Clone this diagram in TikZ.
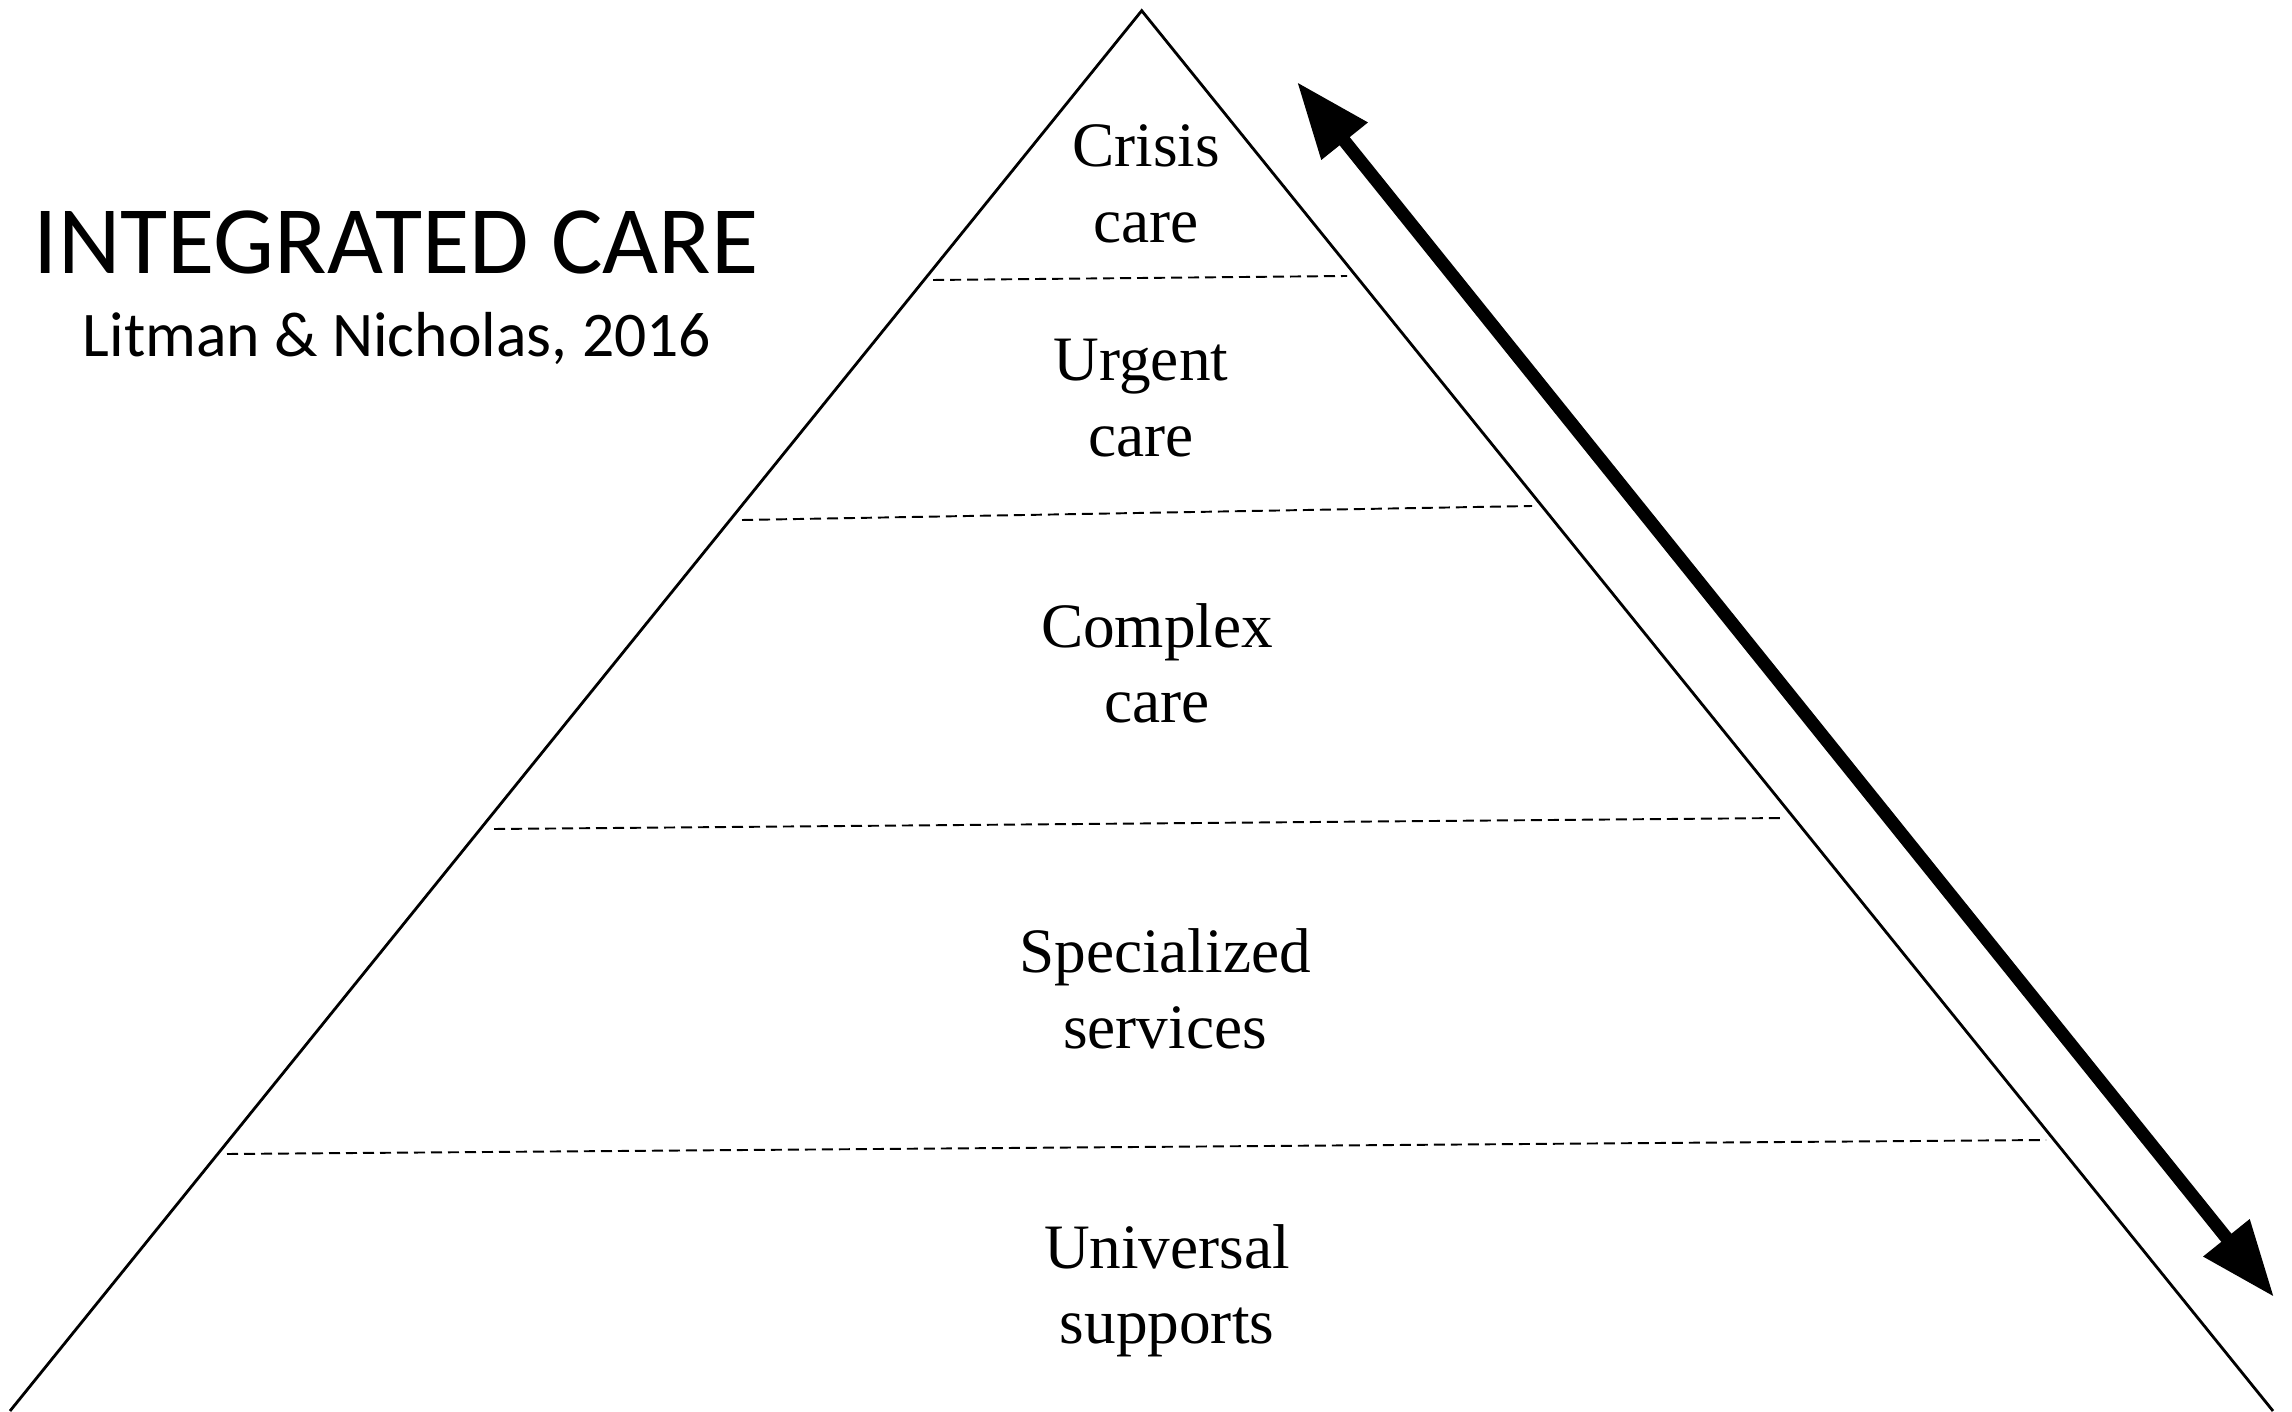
\documentclass[tikz,border=0pt]{standalone}
\usepackage{fontspec}
\setmainfont{Liberation Serif}
\newfontfamily\headfont{Carlito}
\usetikzlibrary{arrows.meta}

\begin{document}
\begin{tikzpicture}[
    side/.style={line width=0.8pt},
    tier/.style={line width=0.55pt, dash pattern=on 1.1mm off 0.6mm},
    flow/.style={{Triangle[length=7.6mm,width=5.6mm]}-{Triangle[length=7.6mm,width=5.6mm]}, line width=1.3mm},
    level/.style={align=center, inner sep=0pt, font=\fontsize{18}{21.5}\selectfont}
    ]

    \useasboundingbox (0,0) rectangle (22.92,14.11);

    \coordinate (top) at (11.417,14.003);
    \coordinate (bl) at (0.10,0);
    \coordinate (br) at (22.73,0);

    \coordinate (T1a) at (9.33,11.31);   \coordinate (T1b) at (13.47,11.35);
    \coordinate (T2a) at (7.42,8.91);    \coordinate (T2b) at (15.32,9.05);
    \coordinate (T3a) at (4.94,5.82);    \coordinate (T3b) at (17.85,5.93);
    \coordinate (T4a) at (2.27,2.57);    \coordinate (T4b) at (20.46,2.71);

    \coordinate (up) at (12.97,13.29);
    \coordinate (down) at (22.74,1.14);

    \node[anchor=base, font=\headfont\fontsize{27.5}{32}\selectfont] (title) at (3.96,11.37) {INTEGRATED CARE};
    \node[anchor=base, font=\headfont\fontsize{18.1}{22}\selectfont] (cite) at (3.97,10.543) {Litman \& Nicholas, 2016};

    \node[level] (crisis) at (11.46,12.269) {Crisis\\care};
    \node[level] (urgent) at (11.41,10.131) {Urgent\\care};
    \node[level] (complex) at (11.57,7.478) {Complex\\care};
    \node[level] (special) at (11.65,4.221) {Specialized\\services};
    \node[level] (universal) at (11.67,1.203) {Universal\\supports};

    \draw[side] (bl) -- (top) -- (br);
    \draw[tier] (T1a) -- (T1b);
    \draw[tier] (T2a) -- (T2b);
    \draw[tier] (T3a) -- (T3b);
    \draw[tier] (T4a) -- (T4b);
    \draw[flow] (up) -- (down);

\end{tikzpicture}
\end{document}
